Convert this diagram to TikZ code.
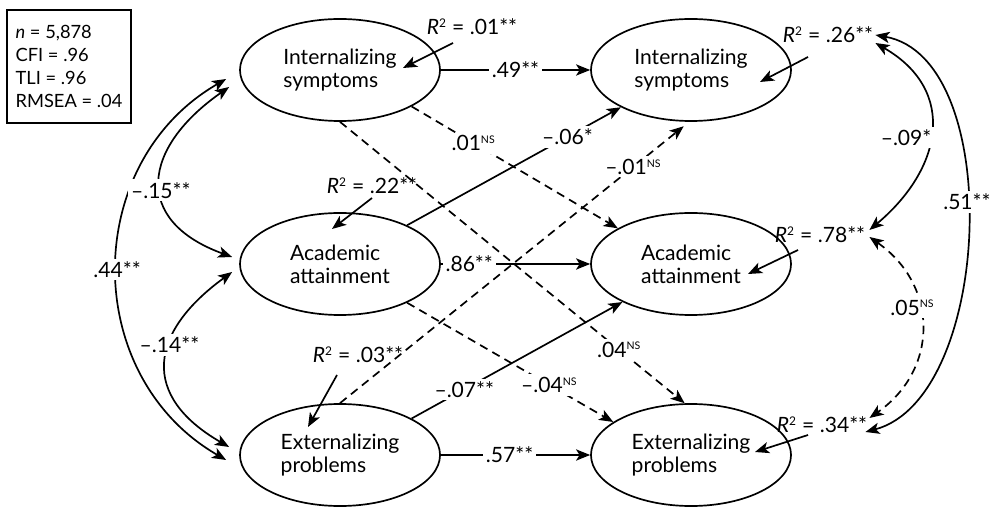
\documentclass[tikz,border=0pt]{standalone}
\usepackage{fontspec}
\setmainfont{Lato}
\usetikzlibrary{arrows.meta,shapes.geometric,calc}
\newcommand{\nsup}{\textsuperscript{\fontsize{7.5pt}{8pt}\selectfont NS}}
\newcommand{\rsq}{\textit{R}\textsuperscript{\fontsize{8.5pt}{9pt}\selectfont 2}}
\begin{document}
\begin{tikzpicture}[x=0.025cm, y=0.025cm, >={Stealth[length=10pt,width=8pt,inset=2.5pt]}, line width=1.2pt,
    every node/.style={font=\fontsize{15pt}{16.5pt}\selectfont},
    latent/.style={ellipse, draw, minimum width=5cm, minimum height=2.55cm, align=left, inner sep=0pt},
    coef/.style={fill=white, inner sep=2pt},
    rsqlab/.style={inner sep=1pt},
    nsline/.style={dash pattern=on 6pt off 4pt}]
    \useasboundingbox (0,0) rectangle (990,506);

    % fit indices
    \node[draw, line width=1pt, align=left, inner xsep=0pt, minimum width=3.1cm, minimum height=2.83cm,
          font=\fontsize{13pt}{16.3pt}\selectfont] (fit) at (69,439.5)
        {\textit{n} = 5,878\\CFI = .96\\TLI = .96\\RMSEA = .04};

    % latent variables, wave 1 and wave 2
    \node[latent] (intL) at (340,436) {Internalizing\\symptoms};
    \node[latent] (acaL) at (340,242) {Academic\\attainment};
    \node[latent] (extL) at (340,51) {Externalizing\\problems};
    \node[latent] (intR) at (691,436) {Internalizing\\symptoms};
    \node[latent] (acaR) at (691,242) {Academic\\attainment};
    \node[latent] (extR) at (691,51) {Externalizing\\problems};

    % explained variance
    \node[rsqlab] (r1) at (472,479) {\rsq{} = .01**};
    \node[rsqlab] (r2) at (828,471) {\rsq{} = .26**};
    \node[rsqlab] (r3) at (372,320) {\rsq{} = .22**};
    \node[rsqlab] (r4) at (820,271) {\rsq{} = .78**};
    \node[rsqlab] (r5) at (358,151) {\rsq{} = .03**};
    \node[rsqlab] (r6) at (822,81) {\rsq{} = .34**};
    \draw[->] ($(r1)+(-19,-16)$) -- ($(intL)+(63,2)$);
    \draw[->] ($(r2)+(-20,-22)$) -- ($(intR)+(69,-12)$);
    \draw[->] ($(r3)+(0,-12)$) -- ($(acaL)+(-8,35)$);
    \draw[->] ($(r4)+(-22,-15)$) -- ($(acaR)+(57,-10)$);
    \draw[->] ($(r5)+(-21,-20)$) -- ($(extL)+(-32,28)$);
    \draw[->] ($(r6)+(-14,-10)$) -- ($(extR)+(64,3)$);

    % stability paths
    \draw[->] (intL) -- node[coef]{.49**} (intR);
    \draw[->] (acaL) -- node[coef, pos=.19]{.86**} (acaR);
    \draw[->] (extL) -- node[coef, pos=.46]{.57**} (extR);

    % cross-lagged paths
    \draw[->, nsline] (intL.-27) -- node[coef, pos=.3]{.01\nsup} (acaR.154);
    \draw[->, nsline] (intL.-90) -- node[coef, pos=.81]{.04\nsup} (extR.97);
    \draw[->, nsline] (acaL.-30) -- node[coef, pos=.69]{–.04\nsup} (extR.157);
    \draw[->] (acaL.30) -- node[coef, pos=.75]{–.06*} (intR.208);
    \draw[->, nsline, shorten >=5pt] (extL.90) -- node[coef, pos=.84]{–.01\nsup} (intR.-92);
    \draw[->] (extL.27) -- node[coef, pos=.25]{–.07**} (acaR.209);

    % covariances, wave 1
    \draw[<->] ($(intL.west)+(-13,-9)$) to[out=210, in=150, looseness=1.13] node[coef]{.44**} ($(extL.west)+(-13,-5)$);
    \draw[<->] ($(intL.west)+(-10,-17)$) to[out=215, in=160, looseness=1.6] node[coef, pos=.55]{–.15**} ($(acaL.west)+(-7,7)$);
    \draw[<->] ($(acaL.west)+(-7,-8)$) to[out=216, in=150, looseness=1.5] node[coef, pos=.4]{–.14**} ($(extL.west)+(-10,8)$);

    % residual covariances, wave 2
    \draw[<->] ($(r2.east)+(0,-8)$) to[out=-30, in=40, looseness=1.3] node[coef, pos=.53, xshift=-17pt]{–.09*} ($(r4.east)+(2,5)$);
    \draw[<->] (r2.east) to[out=-10, in=15, looseness=.85] node[coef, pos=.45]{.51**} ($(r6.east)+(-4,-7)$);
    \draw[<->, nsline] ($(r4.east)+(2,-2)$) to[out=-35, in=35, looseness=1.2] node[coef, pos=.4, xshift=-5pt]{.05\nsup} ($(r6.east)+(0,7)$);
\end{tikzpicture}
\end{document}
